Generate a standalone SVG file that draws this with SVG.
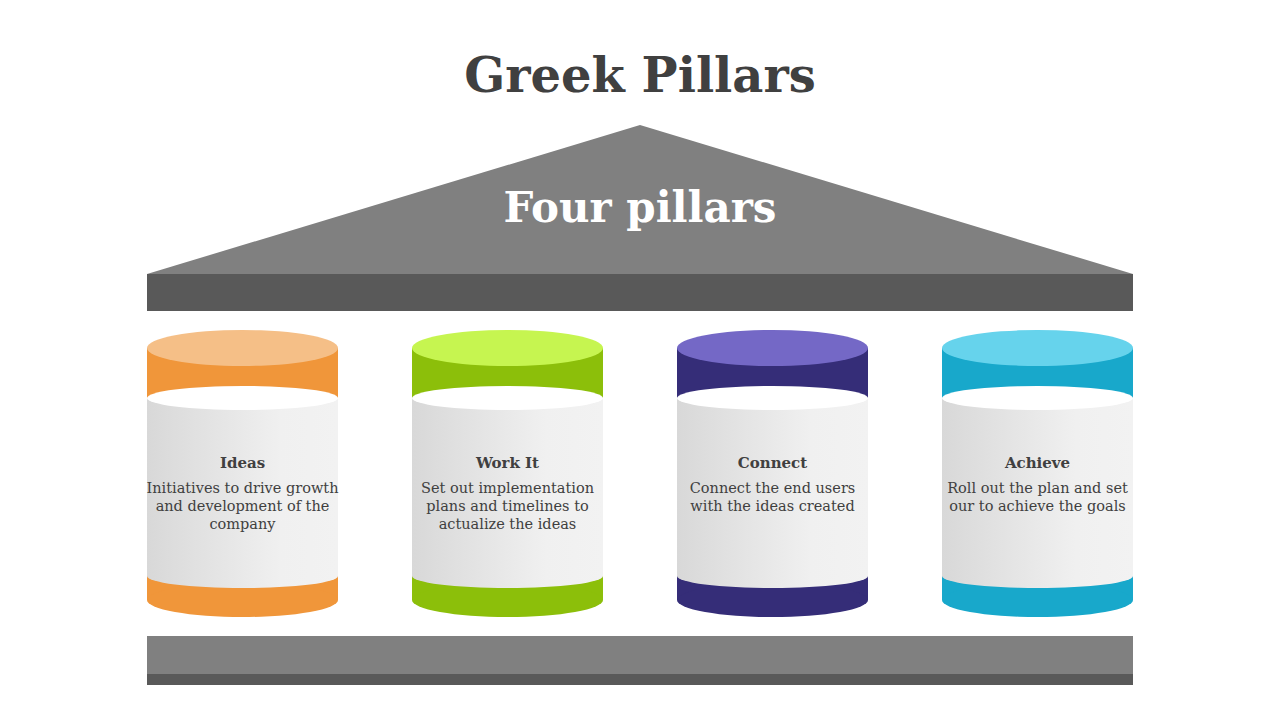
<svg xmlns="http://www.w3.org/2000/svg" width="1280" height="720" viewBox="0 0 1280 720">
<defs>
<linearGradient id="g" x1="0" x2="1" y1="0" y2="0"><stop offset="0" stop-color="#D8D8D8"/><stop offset="0.7" stop-color="#F0F0F0"/><stop offset="1" stop-color="#F2F2F2"/></linearGradient>
<style>
.t{font-family:"DejaVu Serif","Liberation Serif",serif;text-anchor:middle}
.h{font-size:15px;font-weight:bold;fill:#404040}
.b{font-size:14.5px;fill:#404040}
</style>
</defs>
<rect width="1280" height="720" fill="#fff"/>
<text class="t" x="640" y="92" font-size="48" font-weight="bold" fill="#404040">Greek Pillars</text>
<g id="roof">
<polygon points="147,274 640,125 1133,274" fill="#808080"/>
<rect x="147" y="274" width="986" height="37" fill="#595959"/>
<text class="t" x="640" y="222" font-size="42" font-weight="bold" fill="#fff">Four pillars</text>
</g>
<g id="base"><rect x="147" y="636" width="986" height="38" fill="#808080"/><rect x="147" y="674" width="986" height="11" fill="#595959"/></g>
<g id="connectors"/>
<g id="p1" transform="translate(147,0)">
<rect x="0" y="576" width="191" height="24" fill="#F0963A"/><ellipse cx="95.5" cy="600" rx="95.5" ry="17" fill="#F0963A"/>
<rect x="0" y="348" width="191" height="50" fill="#F0963A"/><ellipse cx="95.5" cy="348" rx="95.5" ry="18" fill="#F5BF87"/>
<path d="M0 398 H191 V576 A95.5 12 0 0 1 0 576 Z" fill="url(#g)"/><ellipse cx="95.5" cy="398" rx="95.5" ry="12" fill="#fff"/>
<text class="t h" x="95.5" y="468">Ideas</text>
<text class="t b" x="95.5" y="493">Initiatives to drive growth</text><text class="t b" x="95.5" y="511">and development of the</text><text class="t b" x="95.5" y="529">company</text>
</g>
<g id="p2" transform="translate(412,0)">
<rect x="0" y="576" width="191" height="24" fill="#8CBF0A"/><ellipse cx="95.5" cy="600" rx="95.5" ry="17" fill="#8CBF0A"/>
<rect x="0" y="348" width="191" height="50" fill="#8CBF0A"/><ellipse cx="95.5" cy="348" rx="95.5" ry="18" fill="#C6F550"/>
<path d="M0 398 H191 V576 A95.5 12 0 0 1 0 576 Z" fill="url(#g)"/><ellipse cx="95.5" cy="398" rx="95.5" ry="12" fill="#fff"/>
<text class="t h" x="95.5" y="468">Work It</text>
<text class="t b" x="95.5" y="493">Set out implementation</text><text class="t b" x="95.5" y="511">plans and timelines to</text><text class="t b" x="95.5" y="529">actualize the ideas</text>
</g>
<g id="p3" transform="translate(677,0)">
<rect x="0" y="576" width="191" height="24" fill="#352D78"/><ellipse cx="95.5" cy="600" rx="95.5" ry="17" fill="#352D78"/>
<rect x="0" y="348" width="191" height="50" fill="#352D78"/><ellipse cx="95.5" cy="348" rx="95.5" ry="18" fill="#7468C6"/>
<path d="M0 398 H191 V576 A95.5 12 0 0 1 0 576 Z" fill="url(#g)"/><ellipse cx="95.5" cy="398" rx="95.5" ry="12" fill="#fff"/>
<text class="t h" x="95.5" y="468">Connect</text>
<text class="t b" x="95.5" y="493">Connect the end users</text><text class="t b" x="95.5" y="511">with the ideas created</text>
</g>
<g id="p4" transform="translate(942,0)">
<rect x="0" y="576" width="191" height="24" fill="#18A8CB"/><ellipse cx="95.5" cy="600" rx="95.5" ry="17" fill="#18A8CB"/>
<rect x="0" y="348" width="191" height="50" fill="#18A8CB"/><ellipse cx="95.5" cy="348" rx="95.5" ry="18" fill="#66D3EC"/>
<path d="M0 398 H191 V576 A95.5 12 0 0 1 0 576 Z" fill="url(#g)"/><ellipse cx="95.5" cy="398" rx="95.5" ry="12" fill="#fff"/>
<text class="t h" x="95.5" y="468">Achieve</text>
<text class="t b" x="95.5" y="493">Roll out the plan and set</text><text class="t b" x="95.5" y="511">our to achieve the goals</text>
</g>
</svg>
